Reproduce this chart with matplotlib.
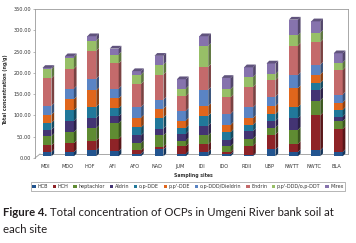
import matplotlib
matplotlib.use("Agg")
import matplotlib.pyplot as plt
from matplotlib.patches import Polygon
import matplotlib.colors as mcolors
import numpy as np

# ---------------- data ----------------
sites = ["MDI", "MDO", "HOF", "AFI", "AFO", "NAD", "JUM", "IDI", "IDO",
         "RDII", "UBP", "NWTT", "NWTC", "BLA"]
series_names = ["HCB", "HCH", "heptachlor", "Aldrin", "o,p-DDE", "p,p'-DDE",
                "o,p-DDD/Dieldrin", "Endrin", "p,p'-DDD/o,p-DDT", "Mirex"]

hcb = [10, 10, 14, 12, 6, 16, 6, 10, 5, 2, 16, 10, 14, 10]
hch = [15.5, 21, 23, 29, 8, 6, 18, 18, 5, 23, 35, 19, 82, 54]
heptachlor = [22, 26, 29, 37, 17, 27, 13, 21, 14, 16, 16, 33, 35, 18]
aldrin = [15, 26, 24, 16, 18, 16, 16, 23, 15, 18, 16, 27, 25, 11]
op_dde = [16, 25, 26, 19, 19, 26, 14, 23, 18, 15, 16, 26, 16, 16]
pp_dde = [19, 26, 39, 23, 23, 21, 17, 23, 17, 16, 19, 45, 20, 17]
op_ddd_dieldrin = [21, 25, 27, 23, 25, 21, 23, 38, 26, 25, 22, 31, 23, 19]
endrin = [65, 47, 66, 59, 54, 59, 35, 54, 39, 48, 39, 69, 53, 58]
pp_ddd_op_ddt = [21, 26, 23, 21, 22, 23, 17, 49, 19, 23, 14, 24, 22, 17]
mirex = [3, 3, 11, 14, 8, 21, 22, 23, 26, 23, 25, 37, 27, 22]

yticks = [0, 50, 100, 150, 200, 250, 300, 350]

series = [hcb, hch, heptachlor, aldrin, op_dde, pp_dde, op_ddd_dieldrin,
          endrin, pp_ddd_op_ddt, mirex]
colors = ["#22548F", "#8E2327", "#5F8B32", "#433473", "#21789A", "#E0661C",
          "#5A84C4", "#C46A6B", "#97BF67", "#8673AD"]

# ---------------- figure ----------------
W, H = 356, 243
fig = plt.figure(figsize=(W / 100, H / 100), dpi=100)
fig.patch.set_facecolor("white")

def fx(px):
    return px / W

def fy(py):
    return 1 - py / H

ax_left, ax_right, ax_top, ax_bot = 35, 348, 9, 158
ax = fig.add_axes([fx(ax_left), fy(ax_bot), (ax_right - ax_left) / W,
                   (ax_bot - ax_top) / H])
slot = 22.4
xmin = -(47 - ax_left) / slot
xmax = xmin + (ax_right - ax_left) / slot
ax.set_xlim(xmin, xmax)
ax.set_ylim(0, 350)
for s in ax.spines.values():
    s.set_visible(False)

gray = "#9a9a9a"
lw = 0.6
base = 4.0
wbar = 0.40
dx = 0.12
dy = 6.5
floor_v = 9.4

# walls / floor
ax.plot([xmin, xmin], [0, 350], color=gray, lw=lw, clip_on=False, zorder=1)
ax.plot([xmin, xmax], [350, 350], color=gray, lw=lw, clip_on=False, zorder=1)
ax.plot([xmax, xmax], [floor_v, 350], color=gray, lw=lw, clip_on=False, zorder=1)
ax.plot([xmin, xmin + 5 / slot], [0, floor_v], color=gray, lw=lw, clip_on=False, zorder=1)
ax.plot([xmin + 5 / slot, xmax], [floor_v, floor_v], color=gray, lw=lw,
        clip_on=False, zorder=1)

x = np.arange(len(sites))
bottoms = np.full(len(sites), base)
handles = []
for name, vals, c in zip(series_names, series, colors):
    vals = np.asarray(vals, dtype=float)
    b = ax.bar(x, vals, bottom=bottoms, width=wbar, color=c, label=name,
               linewidth=0, zorder=3)
    handles.append(b)
    side = np.array(mcolors.to_rgb(c)) * 0.62
    for xi, v, b0 in zip(x, vals, bottoms):
        x1 = xi + wbar / 2
        ax.add_patch(Polygon([(x1, b0), (x1 + dx, b0 + dy), (x1 + dx, b0 + v + dy),
                              (x1, b0 + v)], closed=True, fc=side, ec="none", zorder=3))
    bottoms = bottoms + vals

top_col = np.array(mcolors.to_rgb(colors[-1])) * 0.72
for xi, t in zip(x, bottoms):
    x0, x1 = xi - wbar / 2, xi + wbar / 2
    ax.add_patch(Polygon([(x0, t), (x0 + dx, t + dy), (x1 + dx, t + dy), (x1, t)],
                         closed=True, fc=top_col, ec="none", zorder=3))

tick_font = "DejaVu Sans"
ax.set_yticks(yticks)
ax.set_yticklabels([f"{v:.2f}" for v in yticks], fontsize=3.6, color="#333333",
                   family=tick_font)
ax.tick_params(axis="y", length=1.5, width=0.5, color=gray, pad=1.2)
ax.set_xticks(x - 0.08)
ax.set_xticklabels(sites, fontsize=3.6, color="#333333", family=tick_font)
ax.tick_params(axis="x", length=0, pad=4.0)

fig.text(fx(6), fy(89.5), "Total concentration (ng/g)", rotation=90, ha="center",
         va="center", fontsize=3.4, fontweight="bold", color="#333333")
fig.text(fx(193), fy(175.5), "Sampling sites", ha="center", va="center",
         fontsize=3.3, fontweight="bold", color="#333333")

r = fig.canvas.get_renderer()

def make_legend(fs):
    lg = fig.legend(handles, series_names, ncol=10, loc="center",
                    bbox_to_anchor=(fx(188), fy(186.5)), fontsize=fs,
                    frameon=True, fancybox=False, edgecolor="#7f7f7f",
                    handlelength=0.7, handleheight=0.7, handletextpad=0.3,
                    columnspacing=1.0, borderpad=0.35, borderaxespad=0)
    lg.get_frame().set_linewidth(0.5)
    for t in lg.get_texts():
        t.set_color("#333333")
    return lg

fs = 3.0
leg = make_legend(fs)
wl = leg.get_window_extent(r).width
leg.remove()
leg = make_legend(fs * 310 / wl)

# caption
cap_font = ["Lato", "DejaVu Sans"]
cap_col = "#231F20"
t1 = fig.text(fx(3), fy(212), "Figure 4.", ha="left", va="center",
              fontsize=7.5, fontweight="bold", family=cap_font, color=cap_col)
t2 = fig.text(fx(3), fy(212), "Figure 4. Total concentration of OCPs in Umgeni River bank soil at",
              ha="left", va="center", fontsize=7.5, family=cap_font, color=cap_col,
              alpha=0)
wtot = t2.get_window_extent(r).width
scale = 330 / wtot
for t in (t1, t2):
    t.set_fontsize(7.5 * scale)
t2.remove()
ax.annotate(" Total concentration of OCPs in Umgeni River bank soil at",
            xy=(1, 0), xycoords=t1, ha="left", va="bottom",
            fontsize=7.5 * scale, family=cap_font, color=cap_col,
            annotation_clip=False)
fig.text(fx(3), fy(229), "each site", ha="left", va="center",
         fontsize=7.5 * scale, family=cap_font, color=cap_col)

fig.savefig("out.png", dpi=100)
